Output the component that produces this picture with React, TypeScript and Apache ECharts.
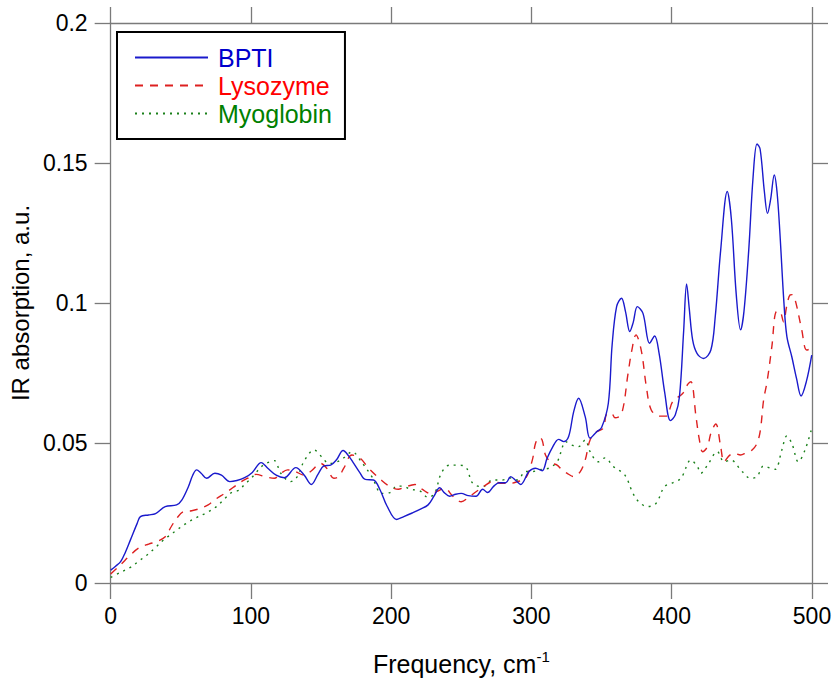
import React, { useEffect, useRef } from "react";
import * as echarts from "echarts";

const seriesNames = ["BPTI", "Lysozyme", "Myoglobin"];
const xTicks = [0, 100, 200, 300, 400, 500];
const yTicks = [0, 0.05, 0.1, 0.15, 0.2];

const bpti: number[][] = [
  [0, 0.0046], [3.5, 0.006], [7.1, 0.0076], [10.5, 0.011], [14.1, 0.0154], [18.9, 0.0213], [21.2, 0.0237], [27, 0.0243], [32, 0.0248], [38.9, 0.0273], [47, 0.0279],
  [50.7, 0.0296], [55.4, 0.0344], [58.5, 0.0385], [61.3, 0.0404], [64.5, 0.0392], [68.4, 0.0374], [74.3, 0.0392], [79, 0.0385],
  [84.9, 0.0362], [90, 0.0366], [95.5, 0.0376], [101, 0.0395], [107.3, 0.043], [112, 0.041], [118, 0.0385], [123.8, 0.0376],
  [132, 0.0412], [137.9, 0.0386], [143, 0.0352], [148, 0.039], [152, 0.0418], [156.8, 0.0421], [161, 0.044], [165.7, 0.0473], [169.5, 0.0455], [173.3, 0.0427],
  [177.5, 0.0395], [181.5, 0.037], [187.4, 0.0368], [192.1, 0.0332], [197, 0.0275], [203.9, 0.0227], [209, 0.0237], [215, 0.025], [220.5, 0.0263],
  [226.3, 0.0279], [230.5, 0.031], [234.6, 0.034], [238, 0.0322], [241.7, 0.031], [246, 0.0317], [249.9, 0.032], [255, 0.0312], [260.5, 0.031], [265.2, 0.0335],
  [268.7, 0.0323], [273, 0.0345], [277, 0.0358], [281.7, 0.0358], [285.2, 0.038], [289, 0.0365], [292.3, 0.0352], [298.2, 0.0398],
  [302.9, 0.041], [307.6, 0.0401], [311.1, 0.0445], [314.6, 0.0481], [319.4, 0.0513], [323, 0.0505], [326.5, 0.0523],
  [330.1, 0.0612], [333.6, 0.066], [338.3, 0.0594], [341.8, 0.0517], [346.5, 0.054], [350, 0.0555], [354.8, 0.0642],
  [357.5, 0.085], [360.7, 0.0987], [364.2, 0.1017], [367, 0.097], [370.1, 0.0898], [372.5, 0.093], [375.5, 0.0987],
  [379.5, 0.0963], [384.2, 0.0856], [387.8, 0.0882], [391, 0.082], [395, 0.068], [399.1, 0.058], [402.5, 0.06],
  [405.5, 0.0665], [408.5, 0.09], [410.6, 0.1068], [412.5, 0.098], [414.9, 0.0868], [418, 0.082], [422.7, 0.0802],
  [427.9, 0.0832], [431, 0.095], [434.9, 0.1189], [439.6, 0.1398], [442.5, 0.13], [446, 0.103], [449.1, 0.0904],
  [451.5, 0.097], [454.9, 0.1189], [458, 0.145], [460.8, 0.1568], [463, 0.155], [466, 0.14], [468.3, 0.132],
  [470.5, 0.137], [473.1, 0.1457], [475, 0.14], [477, 0.126], [480, 0.1], [482.1, 0.088], [485.6, 0.0808],
  [489, 0.073], [492.2, 0.0668], [496, 0.072], [499.8, 0.0814],
];

const lysozyme: number[][] = [
  [0, 0.0032], [7, 0.0065], [14.1, 0.01], [20, 0.0125], [27.1, 0.0139], [33, 0.0148], [38.9, 0.0165], [43, 0.02],
  [47.1, 0.0231], [52, 0.0255], [57.8, 0.0258], [63, 0.0265], [69.5, 0.0279], [75, 0.03], [81.3, 0.032], [87, 0.034],
  [93.1, 0.0362], [98, 0.0375], [103.7, 0.0388], [110, 0.038], [116.7, 0.0374], [121, 0.039], [126.1, 0.0404],
  [131, 0.04], [137.9, 0.0385], [143, 0.04], [149.7, 0.0427], [154, 0.041], [159.1, 0.0374], [162.5, 0.038],
  [166.2, 0.041], [172, 0.0457], [178, 0.0445], [183.9, 0.041], [193.3, 0.0366], [199, 0.0345], [205.1, 0.0335],
  [210, 0.0343], [216.9, 0.0352], [222, 0.0335], [228.7, 0.0318], [233, 0.0328], [238.1, 0.0338], [244, 0.031],
  [249.9, 0.029], [255, 0.0305], [260.5, 0.0326], [266, 0.0345], [272.3, 0.0362], [279.3, 0.0356], [285, 0.0356],
  [290, 0.0362], [295.8, 0.0374], [300.6, 0.0439], [302.9, 0.0499], [305.5, 0.052], [307.6, 0.0511], [310, 0.0457],
  [314, 0.043], [318.3, 0.0421], [321.8, 0.0404], [326, 0.039], [330.1, 0.038], [334.8, 0.0398], [338.3, 0.0439],
  [341.8, 0.0511], [346.5, 0.054], [351.2, 0.0553], [353.6, 0.0603], [357.1, 0.0606], [359.5, 0.059], [364.2, 0.0603],
  [368.9, 0.075], [371.5, 0.083], [374.5, 0.0886], [378.3, 0.083], [381.9, 0.0701], [385.4, 0.0618], [391.3, 0.0596],
  [396, 0.0596], [400.7, 0.0648], [407.8, 0.0677], [411.5, 0.071], [413.7, 0.0719], [417.3, 0.0594], [419.6, 0.0515],
  [422, 0.0469], [425.5, 0.0487], [427.9, 0.0535], [431.4, 0.0568], [434.9, 0.0487], [437.3, 0.0433], [441, 0.0455],
  [444.4, 0.0463], [449.1, 0.0457], [453, 0.0465], [457.3, 0.0475], [460.8, 0.0499], [463.2, 0.0546], [465.5, 0.0654],
  [468, 0.072], [471.4, 0.0845], [474.5, 0.0969], [477, 0.097], [479.7, 0.0933], [482, 0.099], [484.4, 0.1029],
  [486, 0.103], [488, 0.1011], [492.7, 0.0904], [496.2, 0.0832], [499.8, 0.0838],
];

const myoglobin: number[][] = [
  [0, 0.002], [7, 0.0038], [14.1, 0.0056], [20, 0.0078], [25.9, 0.01], [32, 0.0127], [37.7, 0.0154], [42, 0.017],
  [47.1, 0.0189], [53, 0.021], [60.1, 0.0231], [68, 0.025], [75.5, 0.0273], [81, 0.03], [86.1, 0.0323], [91.9, 0.0332],
  [95, 0.035], [99, 0.0368], [103, 0.039], [107.3, 0.0415], [112, 0.043], [116.7, 0.0437], [121.3, 0.0392],
  [128.4, 0.0362], [133, 0.038], [137.9, 0.0435], [145, 0.0475], [150.9, 0.0448], [155.6, 0.0427], [161.5, 0.0433],
  [167, 0.045], [172.1, 0.0469], [179.1, 0.043], [186.2, 0.038], [193.3, 0.032], [199.2, 0.0323], [203.9, 0.0346],
  [208.6, 0.0346], [213.3, 0.0335], [220.4, 0.0329], [226.3, 0.0306], [231, 0.032], [235.7, 0.0392], [241.6, 0.0421],
  [247.5, 0.0421], [253.4, 0.0413], [258.1, 0.0356], [265.2, 0.0344], [272.3, 0.0368], [279.3, 0.0368],
  [285.2, 0.0375], [290, 0.0368], [295.8, 0.0398], [300.6, 0.0398], [306, 0.0405], [312.4, 0.041], [318.3, 0.0433],
  [320.7, 0.0463], [324.3, 0.0505], [328.5, 0.0493], [333.6, 0.0487], [338.3, 0.0511], [341.8, 0.0469],
  [347.7, 0.0433], [352.4, 0.0447], [358.3, 0.0416], [366.5, 0.0386], [372.4, 0.032], [377.1, 0.0287], [383, 0.0273],
  [388.9, 0.0285], [394.8, 0.0344], [400.7, 0.0358], [406.6, 0.0374], [413.7, 0.0439], [418.4, 0.0415],
  [420.7, 0.0392], [425.5, 0.0421], [432.5, 0.0469], [437.3, 0.0433], [442, 0.0439], [450.2, 0.0398],
  [456.1, 0.0374], [460.8, 0.038], [465.5, 0.0418], [470.3, 0.041], [473.8, 0.0406], [478.5, 0.0475], [482, 0.0525],
  [485.6, 0.0499], [490.3, 0.0433], [495, 0.0475], [499.8, 0.0552],
];

const colors = ["#0000CC", "#FF0000", "#008000"];
const lineColors = ["#1a1acc", "#dd2020", "#1a801a"];
const FONT = "'Liberation Sans', Arial, sans-serif";
const AXIS_GREY = "#7a7a7a";

export default function App() {
  const ref = useRef<HTMLDivElement>(null);
  useEffect(() => {
    if (!ref.current) return;
    const chart = echarts.init(ref.current, undefined, { renderer: "svg" });
    const xMin = xTicks[0];
    const xMax = xTicks[xTicks.length - 1];
    const xInt = xTicks[1] - xTicks[0];
    const yMin = yTicks[0];
    const yMax = yTicks[yTicks.length - 1];
    const yInt = yTicks[1] - yTicks[0];
    const axisCommon = {
      axisLine: { show: true, onZero: false, lineStyle: { color: AXIS_GREY, width: 1.3 } },
      axisTick: { show: true, inside: false, length: 16, lineStyle: { color: AXIS_GREY, width: 1.3 } },
      splitLine: { show: false },
    };
    const datasets = [bpti, lysozyme, myoglobin];
    const dashTypes: any[] = ["solid", [8, 7], [2, 5]];
    chart.setOption({
      animation: false,
      backgroundColor: "#ffffff",
      textStyle: { fontFamily: FONT },
      grid: { left: 106, right: 23, top: 23, bottom: 98 },
      legend: {
        orient: "vertical",
        left: 117,
        top: 32,
        borderColor: "#000",
        borderWidth: 2,
        padding: [13, 13, 13, 17],
        itemGap: 3,
        itemWidth: 73,
        itemHeight: 14,
        backgroundColor: "#fff",
        itemStyle: { opacity: 0 },
        textStyle: { fontSize: 25, fontFamily: FONT, padding: [0, 0, 0, 5] },
        data: seriesNames.map((n, i) => ({ name: n, textStyle: { color: colors[i] } })),
      },
      xAxis: [
        {
          type: "value",
          position: "bottom",
          min: xMin,
          max: xMax,
          interval: xInt,
          ...axisCommon,
          axisLabel: { show: true, fontSize: 23, color: "#000", margin: 21, fontFamily: FONT },
          name: "Frequency, cm{sup|-1}",
          nameLocation: "middle",
          nameGap: 66,
          nameTextStyle: {
            fontSize: 25,
            color: "#000",
            fontFamily: FONT,
            rich: { sup: { fontSize: 15, verticalAlign: "top", padding: [0, 0, 14, 0], fontFamily: FONT, color: "#000" } },
          },
        },
        {
          type: "value",
          position: "top",
          min: xMin,
          max: xMax,
          interval: xInt,
          ...axisCommon,
          axisLabel: { show: false },
        },
      ],
      yAxis: [
        {
          type: "value",
          position: "left",
          min: yMin,
          max: yMax,
          interval: yInt,
          ...axisCommon,
          axisLabel: { show: true, fontSize: 23, color: "#000", margin: 23, fontFamily: FONT },
          name: "IR absorption, a.u.",
          nameLocation: "middle",
          nameGap: 67,
          nameTextStyle: { fontSize: 24, color: "#000", fontFamily: FONT },
        },
        {
          type: "value",
          position: "right",
          min: yMin,
          max: yMax,
          interval: yInt,
          ...axisCommon,
          axisLabel: { show: false },
        },
      ],
      series: seriesNames.map((n, i) => ({
        name: n,
        type: "line",
        xAxisIndex: 0,
        yAxisIndex: 0,
        data: datasets[i],
        smooth: 0.35,
        symbol: "none",
        showSymbol: false,
        z: 3 - i,
        itemStyle: { color: lineColors[i] },
        lineStyle: { color: lineColors[i], width: 1.4, type: dashTypes[i] },
      })),
    });
    return () => chart.dispose();
  }, []);
  return <div ref={ref} style={{ width: 835, height: 681, position: "absolute", left: 0, top: 0 }} />;
}
